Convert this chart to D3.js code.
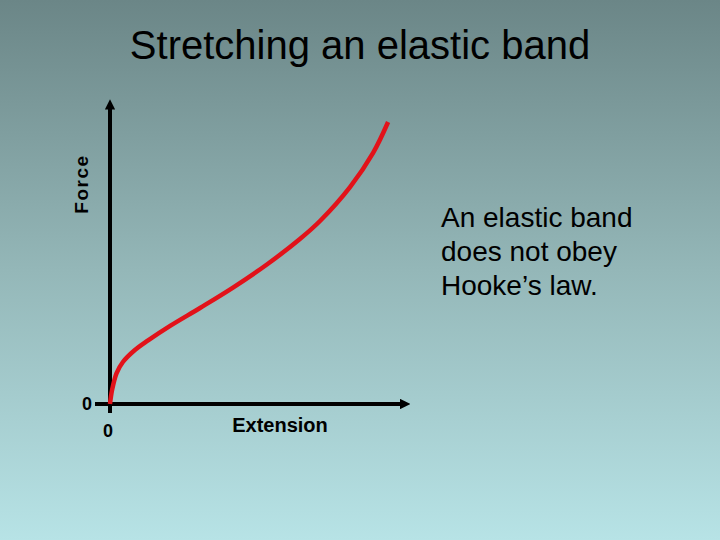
<!DOCTYPE html>
<html>
<head>
<meta charset="utf-8">
<script src="https://cdn.jsdelivr.net/npm/d3@7"></script>
<style>
	body { margin: 0; padding: 0; overflow: hidden; }
	svg { display: block; }
	text { font-family: "Liberation Sans", Arial, sans-serif; fill: #000; }
</style>
</head>
<body>
<script>
// curve (arbitrary units, 0-10 on both axes)
var extension = [0, 0.07, 0.22, 0.43, 0.83, 1.27, 2.03, 3.0, 4.1, 5.23, 6.33, 7.0, 8.0, 8.77, 9.27];
var force = [0, 0.47, 1.03, 1.4, 1.8, 2.12, 2.62, 3.2, 3.88, 4.65, 5.5, 6.1, 7.23, 8.37, 9.4];
var xTicks = ["0"];
var yTicks = ["0"];
var noteLines = ["An elastic band", "does not obey", "Hooke\u2019s law."];

var width = 720, height = 540;

var svg = d3.select("body").append("svg")
	.attr("width", width)
	.attr("height", height);

// background gradient
var defs = svg.append("defs");
var grad = defs.append("linearGradient")
	.attr("id", "bg")
	.attr("x1", 0).attr("y1", 0).attr("x2", 0).attr("y2", 1);
grad.append("stop").attr("offset", "0%").attr("stop-color", "#6b8687");
grad.append("stop").attr("offset", "50%").attr("stop-color", "#94b7b8");
grad.append("stop").attr("offset", "100%").attr("stop-color", "#b7e3e6");

svg.append("rect")
	.attr("width", width)
	.attr("height", height)
	.attr("fill", "url(#bg)");

// arrow heads
defs.append("marker")
	.attr("id", "arrow")
	.attr("viewBox", "0 0 10 10")
	.attr("refX", 1).attr("refY", 5)
	.attr("markerWidth", 2.6).attr("markerHeight", 2.6)
	.attr("markerUnits", "strokeWidth")
	.attr("orient", "auto")
	.append("path")
	.attr("d", "M0,0L10,5L0,10Z")
	.attr("fill", "#000");

var x = d3.scaleLinear().domain([0, 10]).range([110, 410]);
var y = d3.scaleLinear().domain([0, 10]).range([404, 104]);

// title
svg.append("text")
	.attr("x", width / 2)
	.attr("y", 59)
	.attr("text-anchor", "middle")
	.style("font-size", "40px")
	.text("Stretching an elastic band");

// axes
svg.append("line")
	.attr("x1", x(-0.5)).attr("y1", y(0))
	.attr("x2", x(9.7)).attr("y2", y(0))
	.attr("stroke", "#000")
	.attr("stroke-width", 4)
	.attr("marker-end", "url(#arrow)");

svg.append("line")
	.attr("x1", x(0)).attr("y1", y(-0.3))
	.attr("x2", x(0)).attr("y2", y(9.85))
	.attr("stroke", "#000")
	.attr("stroke-width", 4)
	.attr("marker-end", "url(#arrow)");

// tick labels
svg.selectAll(".xtick")
	.data(xTicks)
	.enter().append("text")
	.attr("class", "xtick")
	.attr("x", function (d) { return x(+d) - 2; })
	.attr("y", y(0) + 33)
	.attr("text-anchor", "middle")
	.style("font-size", "18px")
	.style("font-weight", "bold")
	.text(function (d) { return d; });

svg.selectAll(".ytick")
	.data(yTicks)
	.enter().append("text")
	.attr("class", "ytick")
	.attr("x", x(0) - 23)
	.attr("y", function (d) { return y(+d) + 6; })
	.attr("text-anchor", "middle")
	.style("font-size", "18px")
	.style("font-weight", "bold")
	.text(function (d) { return d; });

// axis titles
svg.append("text")
	.attr("x", 280)
	.attr("y", 432)
	.attr("text-anchor", "middle")
	.style("font-size", "20px")
	.style("font-weight", "bold")
	.text("Extension");

svg.append("text")
	.attr("transform", "translate(88,184) rotate(-90)")
	.attr("text-anchor", "middle")
	.style("font-size", "19px")
	.style("font-weight", "bold")
	.style("letter-spacing", "1.5px")
	.text("Force");

// the curve
var pts = extension.map(function (e, i) { return [e, force[i]]; });
var line = d3.line()
	.x(function (d) { return x(d[0]); })
	.y(function (d) { return y(d[1]); })
	.curve(d3.curveCatmullRom.alpha(0.5));

svg.append("path")
	.datum(pts)
	.attr("d", line)
	.attr("fill", "none")
	.attr("stroke", "#e2121a")
	.attr("stroke-width", 4.5);

// note text
svg.append("text")
	.attr("x", 441)
	.attr("y", 227)
	.style("font-size", "28px")
	.selectAll("tspan")
	.data(noteLines)
	.enter().append("tspan")
	.attr("x", 441)
	.attr("dy", function (d, i) { return i === 0 ? 0 : 34; })
	.text(function (d) { return d; });
</script>
</body>
</html>
